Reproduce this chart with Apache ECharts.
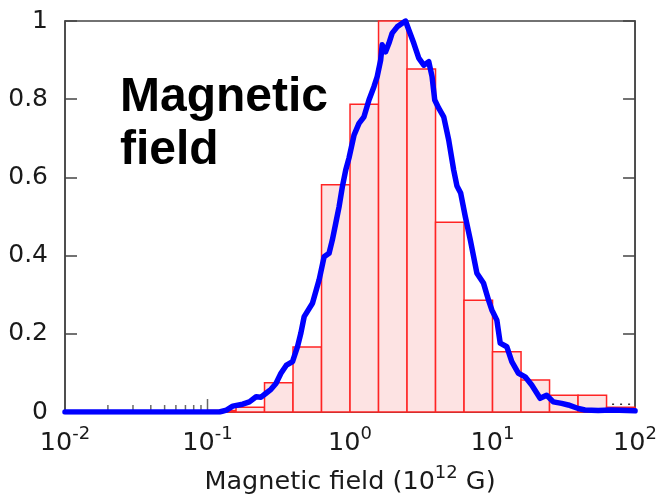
<!DOCTYPE html>
<html>
<head>
<meta charset="utf-8">
<script src="https://cdn.jsdelivr.net/npm/echarts@6/dist/echarts.min.js"></script>
<style>
  html, body { margin: 0; padding: 0; background: #ffffff; }
  #chart { width: 660px; height: 501px; }
</style>
</head>
<body>
<div id="chart"></div>
<script>
// Histogram bins: lower / upper edges (in 10^12 G) and normalised counts
const binLow  = [0.1, 0.1585, 0.2512, 0.3981, 0.631, 1.0, 1.585, 2.512, 3.981, 6.31, 10.0, 15.85, 25.12, 39.81, 63.1];
const binHigh = [0.1585, 0.2512, 0.3981, 0.631, 1.0, 1.585, 2.512, 3.981, 6.31, 10.0, 15.85, 25.12, 39.81, 63.1, 100];
const binHeight = [0.004, 0.012, 0.075, 0.166, 0.581, 0.787, 1.0, 0.877, 0.485, 0.286, 0.154, 0.082, 0.043, 0.043, 0.012];

// Smoothed distribution curve
const curveX = [0.01, 0.1213, 0.1358, 0.1503, 0.1766, 0.1967, 0.2192, 0.2374, 0.2573, 0.2789,
  0.3022, 0.3276, 0.3584, 0.3949, 0.4281, 0.4521, 0.4768, 0.5451, 0.607, 0.6579,
  0.7127, 0.7517, 0.7943, 0.8378, 0.8835, 0.933, 0.984, 1.067, 1.156, 1.253,
  1.358, 1.472, 1.552, 1.64, 1.682, 1.777, 1.874, 1.976, 2.142, 2.321,
  2.452, 2.586, 2.803, 3.037, 3.292, 3.567, 3.763, 3.93, 4.193, 4.543,
  4.923, 5.338, 5.628, 5.974, 6.445, 6.985, 7.767, 8.652, 9.376, 9.888,
  10.72, 11.32, 12.59, 13.65, 15.2, 16.93, 18.83, 21.56, 23.97, 26.71,
  30.53, 34.0, 39.94, 44.49, 55.12, 68.31, 100];
const curveY = [0.0, 0.0, 0.005, 0.015, 0.02, 0.026, 0.039, 0.038, 0.048, 0.058,
  0.073, 0.099, 0.12, 0.129, 0.167, 0.202, 0.244, 0.278, 0.338, 0.397,
  0.406, 0.44, 0.483, 0.525, 0.576, 0.619, 0.65, 0.708, 0.738, 0.755,
  0.798, 0.832, 0.858, 0.9, 0.939, 0.921, 0.943, 0.969, 0.985, 0.994,
  1.0, 0.977, 0.943, 0.905, 0.887, 0.896, 0.858, 0.798, 0.777, 0.755,
  0.696, 0.619, 0.578, 0.56, 0.499, 0.44, 0.355, 0.329, 0.286, 0.261,
  0.235, 0.176, 0.167, 0.129, 0.099, 0.09, 0.069, 0.035, 0.043, 0.026,
  0.022, 0.018, 0.009, 0.005, 0.004, 0.005, 0.003];

// Dotted marker in the last bin
const dotX = [69, 95];
const dotY = [0.02, 0.02];

// Log-axis tick positions drawn along the bottom
const minorTicks = [0.02, 0.03, 0.04, 0.05, 0.06, 0.07, 0.08, 0.09];
const majorTicks = [0.1, 1, 10];

const yTicks = { min: 0, max: 1, interval: 0.2 };

const AXIS = '#444444';
const TEXT = '#1a1a1a';
const FONT = 'DejaVu Sans';

const chart = echarts.init(document.getElementById('chart'), null, { renderer: 'canvas' });

const bins = binLow.map((lo, i) => [lo, binHigh[i], binHeight[i]]);

function tickData(vals) { return vals.map(v => [v, 0]); }

const supRich = {
  b: { fontSize: 25.5, lineHeight: 37, fontFamily: FONT, color: TEXT },
  s: { fontSize: 18, lineHeight: 18, verticalAlign: 'top', fontFamily: FONT, color: TEXT }
};

const option = {
  backgroundColor: '#ffffff',
  animation: false,
  grid: {
    left: 65, right: 23, top: 21, bottom: 89,
    show: true, borderColor: AXIS, borderWidth: 1.5, backgroundColor: 'transparent'
  },
  xAxis: {
    type: 'log', logBase: 10, min: 0.01, max: 100,
    axisLine: { show: true, lineStyle: { color: AXIS, width: 1.5 } },
    axisTick: { show: false },
    splitLine: { show: false },
    axisLabel: {
      margin: 13,
      color: TEXT,
      fontFamily: FONT,
      formatter: v => '{b|10}{s|' + Math.round(Math.log10(v)) + '}',
      rich: supRich
    },
    name: '{b|Magnetic field (10}{s|12}{b| G)}',
    nameLocation: 'middle',
    nameGap: 52,
    nameTextStyle: { rich: supRich }
  },
  yAxis: [
    {
      type: 'value', position: 'left', min: yTicks.min, max: yTicks.max, interval: yTicks.interval,
      axisLine: { show: true, lineStyle: { color: AXIS, width: 1.5 } },
      axisTick: { show: true, inside: true, length: 12, lineStyle: { color: AXIS, width: 1.5 } },
      splitLine: { show: false },
      axisLabel: { margin: 17, fontSize: 25, fontFamily: FONT, color: TEXT }
    },
    {
      type: 'value', position: 'right', min: yTicks.min, max: yTicks.max, interval: yTicks.interval,
      axisLine: { show: true, lineStyle: { color: AXIS, width: 1.5 } },
      axisTick: { show: true, inside: true, length: 12, lineStyle: { color: AXIS, width: 1.5 } },
      splitLine: { show: false },
      axisLabel: { show: false }
    }
  ],
  graphic: [
    {
      type: 'text', left: 120, top: 71, z: 100,
      style: {
        text: 'Magnetic\nfield',
        font: 'bold 48px "Liberation Sans", Arial, sans-serif',
        lineHeight: 53,
        fill: '#000000'
      }
    }
  ],
  series: [
    {
      // minor log ticks
      type: 'scatter', silent: true, z: 1,
      symbol: 'rect', symbolSize: [1.5, 7], symbolOffset: [0, -3.5],
      itemStyle: { color: AXIS },
      data: tickData(minorTicks)
    },
    {
      // decade ticks
      type: 'scatter', silent: true, z: 1,
      symbol: 'rect', symbolSize: [1.5, 13], symbolOffset: [0, -6.5],
      itemStyle: { color: AXIS },
      data: tickData(majorTicks)
    },
    {
      type: 'custom', z: 2, silent: true,
      encode: { x: [0, 1], y: 2 },
      data: bins,
      renderItem: function (params, api) {
        const topLeft = api.coord([api.value(0), api.value(2)]);
        const bottomRight = api.coord([api.value(1), 0]);
        return {
          type: 'rect',
          shape: {
            x: topLeft[0], y: topLeft[1],
            width: bottomRight[0] - topLeft[0],
            height: bottomRight[1] - topLeft[1]
          },
          style: { fill: '#fde3e3', stroke: '#ff2424', lineWidth: 1.5 }
        };
      }
    },
    {
      type: 'line', z: 3, silent: true,
      data: dotX.map((x, i) => [x, dotY[i]]),
      symbol: 'none',
      lineStyle: { color: '#333333', width: 1.5, type: [2, 6] }
    },
    {
      type: 'line', z: 4, silent: true,
      data: curveX.map((x, i) => [x, curveY[i]]),
      symbol: 'none', smooth: false,
      lineStyle: { color: '#0000ff', width: 5.5, join: 'round', cap: 'round' }
    }
  ]
};

chart.setOption(option);
</script>
</body>
</html>
